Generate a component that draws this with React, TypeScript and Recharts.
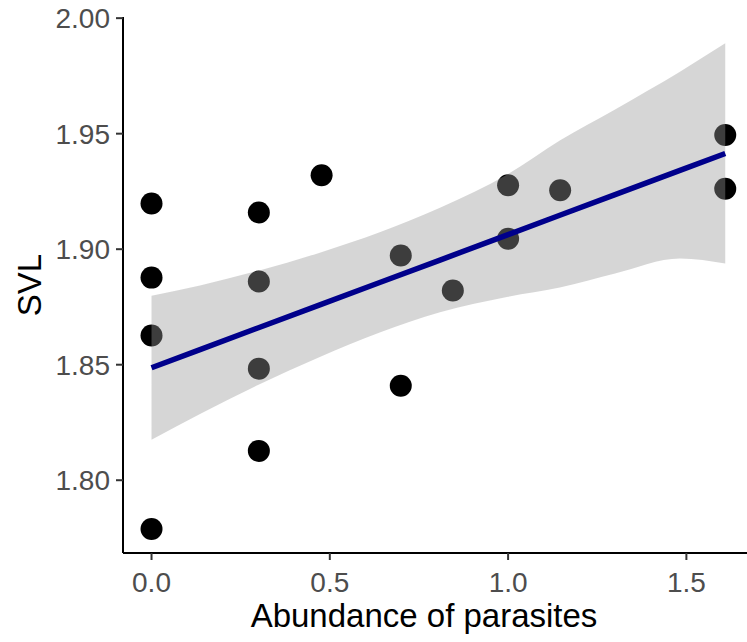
import React from 'react';
import { ComposedChart, Scatter, Area, Line, XAxis, YAxis, Label } from 'recharts';

// Observed points: abundance of parasites (x) vs SVL (y)
const pointX = [0, 0, 0, 0, 0.301, 0.301, 0.301, 0.301, 0.477, 0.699, 0.699, 0.845, 1.0, 1.0, 1.146, 1.609, 1.609];
const pointY = [1.7789, 1.8626, 1.8877, 1.9198, 1.9159, 1.886, 1.8483, 1.8127, 1.932, 1.8973, 1.8409, 1.8821, 1.9277, 1.9045, 1.9255, 1.9494, 1.9262];

// Fitted line and confidence band read along x
const fitX = [0, 0.136, 0.3, 0.472, 0.64, 0.809, 1.0, 1.145, 1.3, 1.482, 1.609];
const fitY = [1.8487, 1.8565, 1.866, 1.8759, 1.8856, 1.8953, 1.9063, 1.9147, 1.9236, 1.9341, 1.9414];
const bandLow = [1.8175, 1.8287, 1.8413, 1.8533, 1.8639, 1.8727, 1.8794, 1.8834, 1.8895, 1.896, 1.8938];
const bandHigh = [1.8799, 1.8843, 1.8907, 1.8985, 1.9073, 1.9179, 1.9325, 1.947, 1.9605, 1.9768, 1.9891];

const xTicks = [0, 0.5, 1.0, 1.5];
const yTicks = [1.8, 1.85, 1.9, 1.95, 2.0];

const points = pointX.map((x, i) => ({ x, y: pointY[i] }));
const fitData = fitX.map((x, i) => ({ x, fit: fitY[i], band: [bandLow[i], bandHigh[i]] }));

const FONT = '"Liberation Sans", Arial, sans-serif';

const Dot = (props: any) => {
  const { cx, cy } = props;
  if (cx == null || cy == null) return null;
  return <circle cx={cx} cy={cy} r={11} fill="#000000" />;
};

export default function App() {
  return (
    <div style={{ position: 'absolute', left: 0, top: 0, width: 747, height: 642, background: '#fff', fontFamily: FONT }}>
      <ComposedChart
        width={747}
        height={642}
        data={fitData}
        margin={{ top: 17, right: 0, bottom: 0, left: 0 }}
      >
        <XAxis
          dataKey="x"
          type="number"
          domain={[-0.08, 1.67]}
          allowDataOverflow
          ticks={xTicks}
          tickFormatter={(v: number) => v.toFixed(1)}
          height={89}
          tickSize={7}
          tickMargin={12}
          axisLine={{ stroke: '#000', strokeWidth: 2 }}
          tickLine={{ stroke: '#333', strokeWidth: 2 }}
          tick={{ fill: '#4d4d4d', fontSize: 28, fontFamily: FONT }}
        >
          <Label
            content={(p: any) => {
              const vb = p.viewBox || { x: 123, y: 553, width: 624, height: 89 };
              const cx = vb.x + vb.width / 2 - 11;
              const cy = vb.y + vb.height - 15;
              return (
                <text x={cx} y={cy} textAnchor="middle" fill="#000" fontSize={33} fontFamily={FONT}>
                  Abundance of parasites
                </text>
              );
            }}
          />
        </XAxis>
        <YAxis
          type="number"
          domain={[1.7685, 2.0005]}
          allowDataOverflow
          ticks={yTicks}
          tickFormatter={(v: number) => v.toFixed(2)}
          width={123}
          tickSize={7}
          tickMargin={6}
          axisLine={{ stroke: '#000', strokeWidth: 2 }}
          tickLine={{ stroke: '#333', strokeWidth: 2 }}
          tick={{ fill: '#4d4d4d', fontSize: 28, fontFamily: FONT }}
        >
          <Label
            content={(p: any) => {
              const vb = p.viewBox || { x: 0, y: 17, width: 123, height: 536 };
              const cx = vb.x + 41;
              const cy = vb.y + vb.height / 2;
              return (
                <text x={cx} y={cy} transform={`rotate(-90 ${cx} ${cy})`} textAnchor="middle" fill="#000" fontSize={33} fontFamily={FONT}>
                  SVL
                </text>
              );
            }}
          />
        </YAxis>
        <Scatter data={points} dataKey="y" shape={Dot} isAnimationActive={false} zIndex={50} />
        <Area
          dataKey="band"
          type="monotone"
          fill="#999999"
          fillOpacity={0.4}
          stroke="none"
          dot={false}
          activeDot={false}
          isAnimationActive={false}
        />
        <Line
          dataKey="fit"
          type="linear"
          stroke="#00008B"
          strokeWidth={5.5}
          dot={false}
          activeDot={false}
          isAnimationActive={false}
        />
      </ComposedChart>
    </div>
  );
}
